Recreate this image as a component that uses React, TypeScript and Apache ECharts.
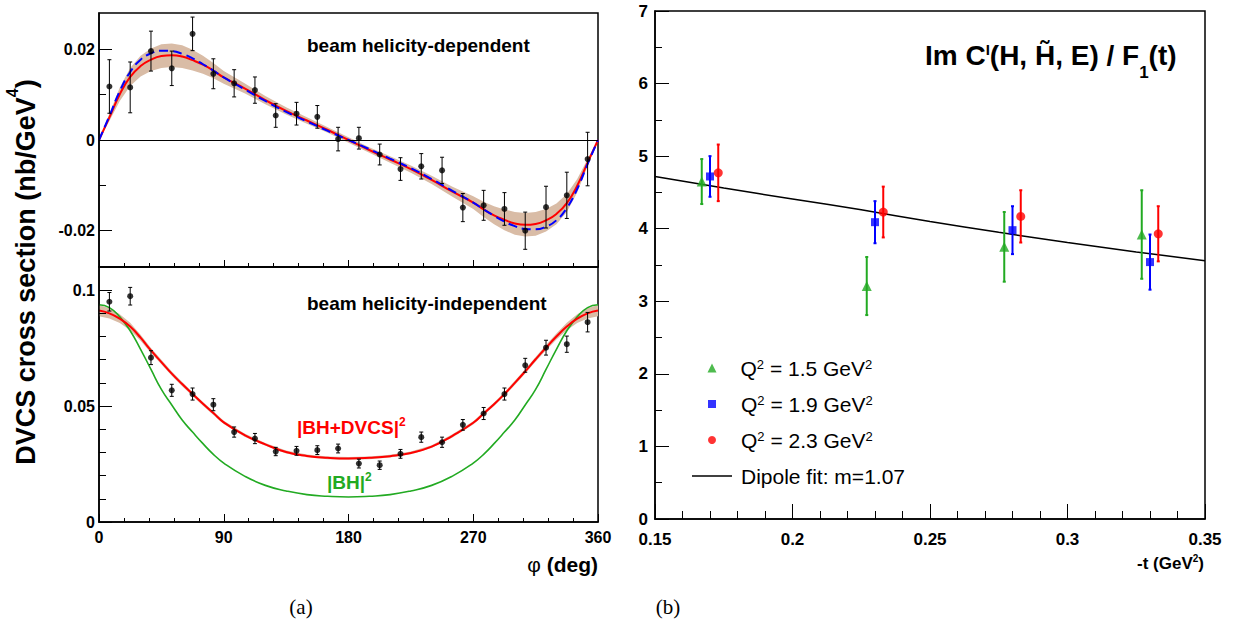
import React, { useEffect, useRef } from 'react';
import * as echarts from 'echarts';

const FONT = "'Liberation Sans', Arial, Helvetica, sans-serif";
const SERIF = "'Liberation Serif', 'DejaVu Serif', serif";
const RED = '#ff0000';
const BLUE = '#0000ff';
const GREEN = '#22aa22';
const BAND = '#d9bca6';

// ---------- panel (a): measured points ----------
const phiBins = [7.5, 22.5, 37.5, 52.5, 67.5, 82.5, 97.5, 112.5, 127.5, 142.5, 157.5, 172.5, 187.5, 202.5, 217.5, 232.5, 247.5, 262.5, 277.5, 292.5, 307.5, 322.5, 337.5, 352.5];
const bhdValues = [0.0118, 0.0116, 0.0196, 0.0158, 0.0234, 0.0146, 0.0125, 0.0110, 0.0054, 0.0058, 0.0051, 0.0002, 0.0004, -0.0032, -0.0064, -0.0058, -0.0067, -0.0149, -0.0144, -0.0152, -0.0200, -0.0148, -0.0122, -0.0042];
const bhdErrors = [0.0059, 0.0056, 0.0044, 0.0038, 0.0037, 0.0033, 0.0030, 0.0029, 0.0026, 0.0025, 0.0025, 0.0026, 0.0024, 0.0023, 0.0025, 0.0028, 0.0029, 0.0031, 0.0033, 0.0036, 0.0041, 0.0046, 0.0051, 0.0059];
const bhiValues = [0.0950, 0.0974, 0.0709, 0.0568, 0.0552, 0.0506, 0.0388, 0.0360, 0.0304, 0.0307, 0.0310, 0.0317, 0.0252, 0.0245, 0.0294, 0.0366, 0.0344, 0.0419, 0.0468, 0.0552, 0.0676, 0.0752, 0.0767, 0.0862];
const bhiErrors = [0.0040, 0.0038, 0.0030, 0.0026, 0.0026, 0.0026, 0.0022, 0.0022, 0.0018, 0.0019, 0.0019, 0.0019, 0.0019, 0.0018, 0.0019, 0.0022, 0.0022, 0.0023, 0.0026, 0.0026, 0.0030, 0.0032, 0.0035, 0.0042];

// ---------- panel (a): curves ----------
const phiCurve = [0, 7.5, 15, 22.5, 30, 37.5, 45, 52.5, 60, 67.5, 75, 82.5, 90, 105, 120, 135, 150, 165, 180, 195, 210, 225, 240, 255, 270, 277.5, 285, 292.5, 300, 307.5, 315, 322.5, 330, 337.5, 345, 352.5, 360];
const bhdFitRed = [0, 0.0050, 0.0101, 0.0139, 0.0163, 0.0177, 0.0185, 0.0187, 0.0184, 0.0176, 0.0166, 0.0153, 0.0138, 0.0114, 0.0088, 0.0064, 0.0043, 0.0022, 0, -0.0022, -0.0043, -0.0064, -0.0088, -0.0114, -0.0138, -0.0153, -0.0166, -0.0176, -0.0184, -0.0187, -0.0185, -0.0177, -0.0163, -0.0139, -0.0101, -0.0050, 0];
const bhdFitBlue = [0, 0.0053, 0.0108, 0.0150, 0.0177, 0.0191, 0.0197, 0.0196, 0.0190, 0.0180, 0.0167, 0.0153, 0.0138, 0.0112, 0.0086, 0.0062, 0.0041, 0.0020, 0, -0.0020, -0.0041, -0.0062, -0.0086, -0.0112, -0.0138, -0.0153, -0.0167, -0.0180, -0.0190, -0.0196, -0.0197, -0.0191, -0.0177, -0.0150, -0.0108, -0.0053, 0];
const bhdBandHalf = [0, 0.0008, 0.0015, 0.0020, 0.0023, 0.0025, 0.0026, 0.0026, 0.0025, 0.0023, 0.0020, 0.0017, 0.0014, 0.0011, 0.0009, 0.0008, 0.0007, 0.0006, 0.0006, 0.0006, 0.0007, 0.0008, 0.0009, 0.0011, 0.0014, 0.0017, 0.0020, 0.0023, 0.0025, 0.0026, 0.0026, 0.0025, 0.0023, 0.0020, 0.0015, 0.0008, 0];
const bhiFitRed = [0.0912, 0.0900, 0.0877, 0.0843, 0.0795, 0.0740, 0.0690, 0.0640, 0.0595, 0.0552, 0.0510, 0.0470, 0.0430, 0.0375, 0.0335, 0.0302, 0.0285, 0.0277, 0.0274, 0.0277, 0.0284, 0.0298, 0.0325, 0.0372, 0.0428, 0.0468, 0.0508, 0.0552, 0.0600, 0.0650, 0.0702, 0.0752, 0.0800, 0.0843, 0.0877, 0.0900, 0.0912];
const bhiBH = [0.0937, 0.0925, 0.0885, 0.0825, 0.0745, 0.0658, 0.0572, 0.0505, 0.0440, 0.0388, 0.0338, 0.0292, 0.0254, 0.0198, 0.0158, 0.0134, 0.0118, 0.0111, 0.0108, 0.0111, 0.0118, 0.0134, 0.0158, 0.0198, 0.0254, 0.0292, 0.0338, 0.0388, 0.0440, 0.0505, 0.0572, 0.0658, 0.0745, 0.0825, 0.0885, 0.0925, 0.0937];
const bhiBandHalf = [0.0024, 0.0022, 0.0019, 0.0016, 0.0013, 0.0011, 0.0010, 0.0009, 0.0009, 0.0008, 0.0008, 0.0008, 0.0007, 0.0007, 0.0006, 0.0006, 0.0006, 0.0006, 0.0006, 0.0006, 0.0006, 0.0006, 0.0006, 0.0007, 0.0007, 0.0008, 0.0008, 0.0008, 0.0009, 0.0009, 0.0010, 0.0011, 0.0013, 0.0016, 0.0019, 0.0022, 0.0024];

// ---------- panel (a): ticks ----------
const phiTicks = [0, 90, 180, 270, 360];
const phiMinorTicks = [18, 36, 54, 72, 108, 126, 144, 162, 198, 216, 234, 252, 288, 306, 324, 342];
const bhdTicks = [-0.02, 0, 0.02];
const bhdMinorTicks = [-0.01, 0.01];
const bhiTicks = [0, 0.05, 0.1];
const bhiMinorTicks = [0.01, 0.02, 0.03, 0.04, 0.06, 0.07, 0.08, 0.09];

// ---------- panel (b) ----------
const tQ15 = [0.167, 0.227, 0.277, 0.327];
const vQ15 = [4.65, 3.21, 3.75, 3.92];
const eQ15 = [0.31, 0.40, 0.48, 0.61];
const tQ19 = [0.170, 0.230, 0.280, 0.330];
const vQ19 = [4.72, 4.09, 3.98, 3.54];
const eQ19 = [0.28, 0.29, 0.33, 0.38];
const tQ23 = [0.173, 0.233, 0.283, 0.333];
const vQ23 = [4.77, 4.23, 4.17, 3.93];
const eQ23 = [0.39, 0.35, 0.36, 0.38];
const tDipole = [0.15, 0.175, 0.2, 0.225, 0.25, 0.275, 0.3, 0.325, 0.35];
const vDipole = [4.72, 4.56, 4.41, 4.26, 4.10, 3.95, 3.81, 3.68, 3.56];
const tTicks = [0.15, 0.2, 0.25, 0.3, 0.35];
const tMinorTicks = [0.16, 0.17, 0.18, 0.19, 0.21, 0.22, 0.23, 0.24, 0.26, 0.27, 0.28, 0.29, 0.31, 0.32, 0.33, 0.34];
const cTicks = [0, 1, 2, 3, 4, 5, 6, 7];
const cMinorTicks = [0.5, 1.5, 2.5, 3.5, 4.5, 5.5, 6.5];

const legendNames = ['Q² = 1.5 GeV²', 'Q² = 1.9 GeV²', 'Q² = 2.3 GeV²', 'Dipole fit: m=1.07'];
const legendRich = ['{n|Q}{sup|2}{n| = 1.5 GeV}{sup|2}', '{n|Q}{sup|2}{n| = 1.9 GeV}{sup|2}', '{n|Q}{sup|2}{n| = 2.3 GeV}{sup|2}', '{n|Dipole fit: m=1.07}'];

// rich-text styles with super/subscripts placed relative to the main line
function richSet(S: number, L: number, supS: number, subS: number, weight: string, color: string, raise = 0.05) {
  const base = { fontFamily: FONT, fontWeight: weight, fill: color, color };
  const supCenter = L / 2 - 0.366 * S - raise * S + 0.366 * supS;
  const subCenter = L / 2 + 0.4 * S + 0.366 * subS;
  const supH = Math.max(2 * supCenter, 1);
  const subH = Math.max(2 * (L - subCenter), 1);
  return {
    n: { ...base, fontSize: S, lineHeight: L, height: L },
    sup: { ...base, fontSize: supS, lineHeight: supH, height: supH, verticalAlign: 'top' },
    sub: { ...base, fontSize: subS, lineHeight: subH, height: subH, verticalAlign: 'bottom' },
    p: { fontFamily: FONT, fontWeight: 'normal', fill: color, color, fontSize: S, lineHeight: L, height: L },
  };
}

const fmt = (v: number) => (Math.abs(v) < 1e-12 ? '0' : String(+v.toFixed(4)));

function majorAxis(gridIndex: number, position: string, min: number, max: number, ticks: number[], tickLen: number, showLabel: boolean, margin: number, fontSize: number) {
  return {
    type: 'value', gridIndex, position, min, max, z: 5,
    axisLine: { show: true, onZero: false, lineStyle: { color: '#000', width: 1.5 } },
    axisTick: { show: true, inside: true, length: tickLen, customValues: ticks, lineStyle: { color: '#000', width: 1 } },
    axisLabel: { show: showLabel, customValues: ticks, margin, formatter: fmt, fontFamily: FONT, fontWeight: 'bold', fontSize, color: '#000' },
    splitLine: { show: false },
  };
}
function minorAxis(gridIndex: number, position: string, min: number, max: number, ticks: number[], tickLen: number) {
  return {
    type: 'value', gridIndex, position, min, max, z: 5,
    axisLine: { show: false, onZero: false },
    axisTick: { show: true, inside: true, length: tickLen, customValues: ticks, lineStyle: { color: '#000', width: 1 } },
    axisLabel: { show: false },
    splitLine: { show: false },
  };
}

function errorBars(name: string, xs: number[], ys: number[], es: number[], axis: number, color: string, width: number, cap: number) {
  return {
    type: 'custom', name, xAxisIndex: axis, yAxisIndex: axis, silent: true, z: 3,
    encode: { x: 0, y: 1 },
    data: xs.map((x, i) => [x, ys[i], es[i]]),
    renderItem: (_p: any, api: any) => {
      const x = api.value(0), y = api.value(1), e = api.value(2);
      const a = api.coord([x, y + e]);
      const b = api.coord([x, y - e]);
      const style = { stroke: color, lineWidth: width };
      return {
        type: 'group',
        children: [
          { type: 'line', shape: { x1: a[0], y1: a[1], x2: b[0], y2: b[1] }, style },
          { type: 'line', shape: { x1: a[0] - cap, y1: a[1], x2: a[0] + cap, y2: a[1] }, style },
          { type: 'line', shape: { x1: b[0] - cap, y1: b[1], x2: b[0] + cap, y2: b[1] }, style },
        ],
      };
    },
  };
}

function band(name: string, center: number[], half: number[], axis: number) {
  return {
    type: 'custom', name, xAxisIndex: axis, yAxisIndex: axis, silent: true, z: 1, clip: true,
    encode: { x: 0, y: [1, 2] },
    data: phiCurve.map((p, i) => [p, center[i] - half[i], center[i] + half[i]]),
    renderItem: (params: any, api: any) => {
      if (params.dataIndex !== 0) return null;
      const upper = phiCurve.map((p, i) => api.coord([p, center[i] + half[i]]));
      const lower = phiCurve.map((p, i) => api.coord([p, center[i] - half[i]])).reverse();
      return { type: 'polygon', shape: { points: upper.concat(lower) }, style: { fill: BAND } };
    },
  };
}

function curve(name: string, ys: number[], axis: number, color: string, width: number, type: any = 'solid', extra: any = {}) {
  return {
    type: 'line', name, xAxisIndex: axis, yAxisIndex: axis, smooth: true, symbol: 'none', silent: true, z: 2,
    lineStyle: { color, width, type },
    data: phiCurve.map((p, i) => [p, ys[i]]),
    ...extra,
  };
}

function legendItem(idx: number, icon: string, left: number, top: number, w: number, h: number, spacer: number) {
  const r: any = richSet(21, 36, 13, 13, 'normal', '#000', 0.05);
  r.g = { width: spacer, fontSize: 21, lineHeight: 36 };
  return {
    orient: 'vertical', left, top, padding: 0, itemGap: 0, itemWidth: w, itemHeight: h,
    selectedMode: false,
    data: [{ name: legendNames[idx], icon }],
    formatter: () => '{g| }' + legendRich[idx],
    textStyle: { rich: r },
  };
}

export default function App() {
  const ref = useRef<HTMLDivElement>(null);
  useEffect(() => {
    if (!ref.current) return;
    const chart = echarts.init(ref.current, null, { renderer: 'svg' });
    const gridBase = { show: true, borderColor: '#000', borderWidth: 1.5, backgroundColor: 'transparent', containLabel: false, outerBoundsMode: 'none' };
    const option: any = {
      animation: false,
      backgroundColor: '#fff',
      grid: [
        { ...gridBase, left: 99, top: 13, width: 499, height: 254 },
        { ...gridBase, left: 99, top: 267, width: 499, height: 255 },
        { ...gridBase, left: 655, top: 11, width: 550, height: 508 },
      ],
      xAxis: [
        majorAxis(0, 'bottom', 0, 360, phiTicks, 7, false, 7, 16),
        minorAxis(0, 'bottom', 0, 360, phiMinorTicks, 4),
        majorAxis(1, 'bottom', 0, 360, phiTicks, 8, true, 7, 16),
        minorAxis(1, 'bottom', 0, 360, phiMinorTicks, 4),
        majorAxis(2, 'bottom', 0.15, 0.35, tTicks, 15, true, 12, 17),
        minorAxis(2, 'bottom', 0.15, 0.35, tMinorTicks, 8),
      ],
      yAxis: [
        majorAxis(0, 'left', -0.028, 0.028, bhdTicks, 13, true, 4, 16),
        minorAxis(0, 'left', -0.028, 0.028, bhdMinorTicks, 7),
        majorAxis(1, 'left', 0, 0.11, bhiTicks, 13, true, 4, 16),
        minorAxis(1, 'left', 0, 0.11, bhiMinorTicks, 7),
        majorAxis(2, 'left', 0, 7, cTicks, 14, true, 7, 17),
        minorAxis(2, 'left', 0, 7, cMinorTicks, 7),
      ],
      legend: [
        legendItem(0, 'triangle', 707.5, 350, 9, 9, 19),
        legendItem(1, 'rect', 708, 386, 8, 8, 20),
        legendItem(2, 'circle', 708, 422, 8, 8, 20),
        legendItem(3, 'rect', 692, 458, 40, 1.5, 4),
      ],
      series: [
        band('helicity-dependent band', bhdFitRed, bhdBandHalf, 0),
        curve('BH+DVCS fit (helicity-dependent)', bhdFitRed, 0, RED, 2, 'solid', {
          markLine: { silent: true, symbol: ['none', 'none'], label: { show: false }, lineStyle: { color: '#000', width: 1, type: 'solid' }, data: [{ yAxis: 0 }] },
        }),
        curve('alternative fit', bhdFitBlue, 0, BLUE, 2, [9, 5]),
        errorBars('bhd-err', phiBins, bhdValues, bhdErrors, 0, '#000', 1, 2),
        { type: 'scatter', name: 'beam helicity-dependent data', xAxisIndex: 0, yAxisIndex: 0, symbol: 'circle', symbolSize: 6, itemStyle: { color: '#000' }, z: 4, silent: true, data: phiBins.map((p, i) => [p, bhdValues[i]]) },

        band('helicity-independent band', bhiFitRed, bhiBandHalf, 2),
        curve('|BH|²', bhiBH, 2, GREEN, 1.6),
        curve('|BH+DVCS|²', bhiFitRed, 2, RED, 2),
        errorBars('bhi-err', phiBins, bhiValues, bhiErrors, 2, '#000', 1, 2),
        { type: 'scatter', name: 'beam helicity-independent data', xAxisIndex: 2, yAxisIndex: 2, symbol: 'circle', symbolSize: 6, itemStyle: { color: '#000' }, z: 4, silent: true, data: phiBins.map((p, i) => [p, bhiValues[i]]) },

        { type: 'line', name: legendNames[3], xAxisIndex: 4, yAxisIndex: 4, smooth: true, symbol: 'none', silent: true, z: 2, lineStyle: { color: '#000', width: 1.5 }, itemStyle: { color: '#000' }, data: tDipole.map((t, i) => [t, vDipole[i]]) },
        errorBars('q15-err', tQ15, vQ15, eQ15, 4, GREEN, 2, 1.5),
        errorBars('q19-err', tQ19, vQ19, eQ19, 4, BLUE, 2, 1.5),
        errorBars('q23-err', tQ23, vQ23, eQ23, 4, RED, 2, 1.5),
        { type: 'scatter', name: legendNames[0], xAxisIndex: 4, yAxisIndex: 4, symbol: 'triangle', symbolSize: 10, itemStyle: { color: GREEN }, z: 4, silent: true, data: tQ15.map((t, i) => [t, vQ15[i]]) },
        { type: 'scatter', name: legendNames[1], xAxisIndex: 4, yAxisIndex: 4, symbol: 'rect', symbolSize: 8, itemStyle: { color: BLUE }, z: 4, silent: true, data: tQ19.map((t, i) => [t, vQ19[i]]) },
        { type: 'scatter', name: legendNames[2], xAxisIndex: 4, yAxisIndex: 4, symbol: 'circle', symbolSize: 9, itemStyle: { color: RED }, z: 4, silent: true, data: tQ23.map((t, i) => [t, vQ23[i]]) },
      ],
      graphic: [
        { type: 'text', x: 307, y: 45.5, z: 10, style: { text: 'beam helicity-dependent', fontFamily: FONT, fontWeight: 'bold', fontSize: 19, fill: '#000', align: 'left', verticalAlign: 'middle' } },
        { type: 'text', x: 307, y: 303, z: 10, style: { text: 'beam helicity-independent', fontFamily: FONT, fontWeight: 'bold', fontSize: 19, fill: '#000', align: 'left', verticalAlign: 'middle' } },
        { type: 'text', x: 297, y: 427, z: 10, style: { text: '{n||BH+DVCS|}{sup|2}', rich: richSet(19, 34, 12, 12, 'bold', RED, 0.15), align: 'left', verticalAlign: 'middle' } },
        { type: 'text', x: 327, y: 482, z: 10, style: { text: '{n||BH|}{sup|2}', rich: richSet(19, 34, 12, 12, 'bold', GREEN, 0.15), align: 'left', verticalAlign: 'middle' } },
        { type: 'text', x: 26, y: 272, rotation: Math.PI / 2, z: 10, style: { text: '{n|DVCS cross section (nb/GeV}{sup|4}{n|)}', rich: richSet(27, 54, 16, 16, 'bold', '#000', 0.35), align: 'center', verticalAlign: 'middle' } },
        { type: 'text', x: 598, y: 564, z: 10, style: { text: '{p|φ}{n| (deg)}', rich: richSet(21, 30, 12, 12, 'bold', '#000'), align: 'right', verticalAlign: 'middle' } },
        { type: 'text', x: 1204, y: 563, z: 10, style: { text: '{n|-t (GeV}{sup|2}{n|)}', rich: richSet(17, 30, 10, 10, 'bold', '#000', 0.1), align: 'right', verticalAlign: 'middle' } },
        { type: 'text', x: 925, y: 55, z: 10, style: { text: '{n|Im C}{sup|I}{n|(H, H\u0303, E) / F}{sub|1}{n|(t)}', rich: richSet(28, 56, 15, 17, 'bold', '#000', 0.02), align: 'left', verticalAlign: 'middle' } },
        { type: 'text', x: 301, y: 607, z: 10, style: { text: '(a)', fontFamily: SERIF, fontSize: 21, fill: '#000', align: 'center', verticalAlign: 'middle' } },
        { type: 'text', x: 668, y: 607, z: 10, style: { text: '(b)', fontFamily: SERIF, fontSize: 21, fill: '#000', align: 'center', verticalAlign: 'middle' } },
      ],
    };
    chart.setOption(option);
    return () => chart.dispose();
  }, []);
  return <div ref={ref} style={{ position: 'fixed', left: 0, top: 0, width: 1237, height: 627, background: '#fff' }} />;
}
